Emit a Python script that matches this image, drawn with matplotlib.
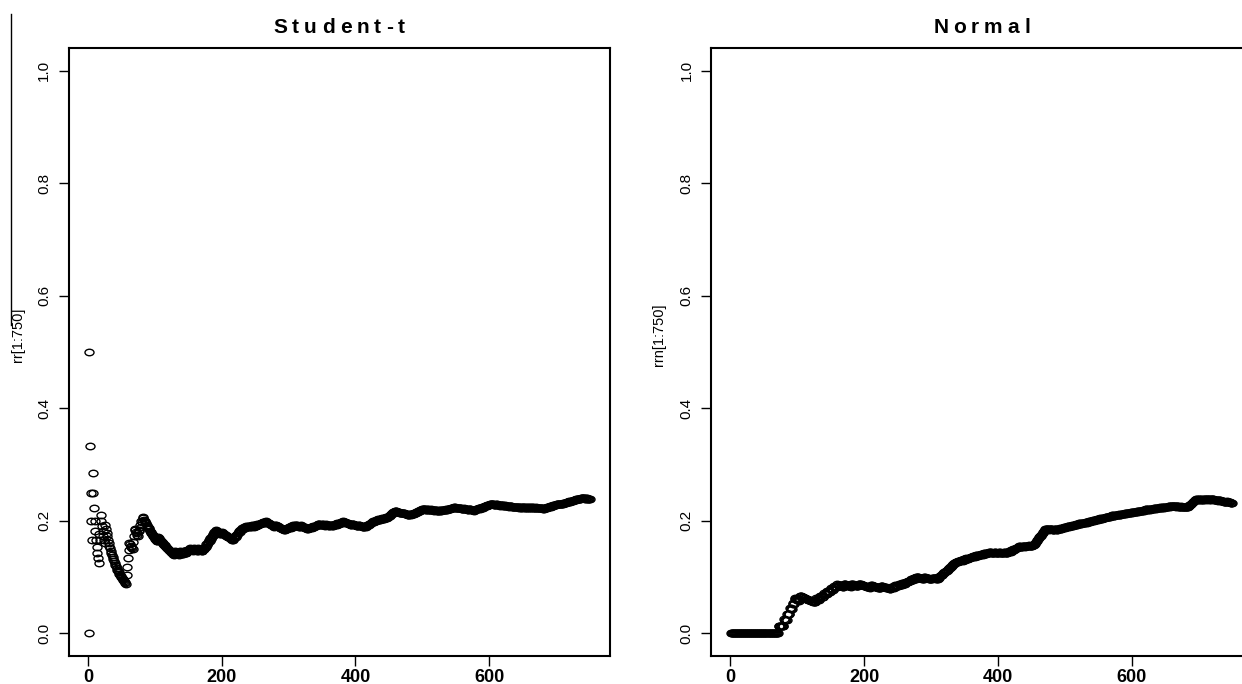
import numpy as np
import matplotlib
matplotlib.use("Agg")
import matplotlib.pyplot as plt
from matplotlib.path import Path
from matplotlib.transforms import Affine2D
from matplotlib.lines import Line2D
from matplotlib.textpath import text_to_path
from matplotlib.font_manager import FontProperties

# ---------------- data ----------------
N_OBS = 750

# trial indices at which an exceedance occurred (Student-t model)
student_hits = [
    2, 7, 17, 19, 26,
    58, 59, 60, 61, 62,
    68, 69, 70,
    76, 78, 80, 82,
    105,
    130, 137, 143, 148, 152, 158, 165, 172,
    175, 177, 179, 181, 183, 185, 187, 189, 191,
    200,
    218, 220, 222, 224, 226, 228, 230, 233, 236,
    240, 245,
    249, 253, 256, 259, 262, 266,
    280,
    295, 298, 301, 304, 307, 310,
    318,
    330, 333, 336, 339, 342, 344,
    350, 356, 362, 367,
    370, 373, 376, 379, 382,
    395, 405,
    414, 417, 419, 421, 423, 425, 427, 429, 431,
    434, 437, 440, 443, 446, 448, 450,
    452, 453, 455, 456, 457, 459,
    470,
    481, 484, 487, 489, 491, 493, 495, 497, 499, 501,
    507, 513, 519, 525,
    529, 532, 535, 538, 541, 543, 546, 548,
    555, 563, 570,
    578, 580, 582, 584, 587, 589, 591, 593, 595, 597, 599, 601, 603,
    610, 617, 624, 631,
    640, 645, 650, 655, 660, 664,
    670, 676,
    683, 685, 687, 689, 691, 693, 695, 697, 699, 701, 703,
    708, 710, 712, 714, 716, 718, 720, 722, 724, 726, 728, 730, 732, 735, 737, 739,
    745,
]

# trial indices at which an exceedance occurred (Normal model)
normal_hits = [
    72, 80, 85, 89, 93, 96,
    104,
    128, 134, 140, 145, 150, 155, 160,
    170, 181, 192, 210, 225,
    240, 246, 252, 257,
    262, 266, 270, 274, 278,
    290, 302,
    311, 313, 315, 318, 320, 322, 325, 327, 329, 331, 333, 335, 337,
    341, 345, 349, 352, 356, 359, 363, 367, 371, 375, 379, 383, 387,
    395, 402, 409,
    415, 417, 420, 422, 425, 427, 430, 432,
    437, 442, 447, 452,
    455, 456, 457, 458, 459, 460, 461, 462, 463, 465, 466, 467, 468, 469, 470, 471, 472,
    478, 485,
    490, 493, 496, 499, 501, 504, 507, 510, 513, 516, 519, 521,
    525, 528, 531, 534, 536, 539, 542, 545, 548, 550, 553, 556, 559, 561, 564, 567, 569, 571,
    575, 578, 581, 584, 587, 590, 593, 596, 599, 602, 605, 608, 611, 614, 617, 619, 621,
    625, 628, 631, 634, 637, 640, 643, 646, 649, 652, 655, 658, 661,
    667, 673, 679,
    684, 685, 686, 687, 688, 689, 690, 691, 692, 693, 694, 695, 696,
    700, 704, 708, 712, 716, 720,
    730, 742,
]

titles = ["Student-t", "Normal"]
ylabels = ["rr[1:750]", "rrn[1:750]"]
xticks = [0, 200, 400, 600]
xtick_labels = ["0", "200", "400", "600"]
yticks = [0.0, 0.2, 0.4, 0.6, 0.8, 1.0]
ytick_labels = ["0.0", "0.2", "0.4", "0.6", "0.8", "1.0"]


def running_rate(hits, n):
    idx = np.arange(1, n + 1)
    flags = np.isin(idx, hits).astype(float)
    return idx, np.cumsum(flags) / idx


# ---------------- figure ----------------
W, H = 1242, 684
fig = plt.figure(figsize=(W / 100, H / 100), dpi=100)
plt.rcParams["font.family"] = ["Liberation Sans", "DejaVu Sans"]

# R-like open circle (slightly flattened as in the picture)
ell = Path.unit_circle().transformed(Affine2D().scale(1.0, 0.72))

panels = [(68.5, 48, 609.6, 656), (711, 48, 1252.1, 656)]
series = [student_hits, normal_hits]

title_fp = FontProperties(family="Liberation Sans", weight="bold", size=15)


def spaced_text(xc, y, s, fp, gap):
    # draw a string with extra tracking, centred at xc (pixels)
    widths = []
    for i in range(1, len(s) + 1):
        w, h, d = text_to_path.get_text_width_height_descent(s[:i], fp, ismath=False)
        widths.append(w * 100 / 72)
    total = widths[-1] + gap * (len(s) - 1)
    x0 = xc - total / 2
    prev = 0.0
    for i, ch in enumerate(s):
        xpos = x0 + prev + gap * i
        fig.text(xpos / W, 1 - y / H, ch, fontproperties=fp, ha="left", va="baseline")
        prev = widths[i]


for k, (x0, y0, x1, y1) in enumerate(panels):
    ax = fig.add_axes([x0 / W, 1 - y1 / H, (x1 - x0) / W, (y1 - y0) / H])
    idx, rate = running_rate(series[k], N_OBS)
    ax.plot(idx, rate, linestyle="none", marker=ell, markersize=6.5,
            markerfacecolor="none", markeredgecolor="black", markeredgewidth=1.0)
    ax.set_xlim(1 - 0.04 * (N_OBS - 1), N_OBS + 0.04 * (N_OBS - 1))
    ax.set_ylim(-0.04, 1.04)
    ax.set_xticks(xticks)
    ax.set_xticklabels(xtick_labels, fontsize=13, fontweight="bold")
    ax.set_yticks(yticks)
    ax.set_yticklabels(ytick_labels, fontsize=11, rotation=90, va="center")
    ax.tick_params(axis="both", direction="out", length=7.5, width=1.0, color="black")
    ax.tick_params(axis="x", pad=2)
    ax.tick_params(axis="y", pad=5)
    for sp in ax.spines.values():
        sp.set_linewidth(1.5)
        sp.set_color("black")
    # title
    xc = (x0 + x1) / 2
    spaced_text(xc, 33, titles[k], title_fp, 5.0)

# y-axis labels
fig.text(18 / W, 1 - 335 / H, ylabels[0], rotation=90, ha="center", va="center", fontsize=10.5)
fig.text(659 / W, 1 - 335 / H, ylabels[1], rotation=90, ha="center", va="center", fontsize=10.5)

# thin vertical rule at far left
fig.add_artist(Line2D([11 / W, 11 / W], [1 - 14 / H, 1 - 325 / H],
                      transform=fig.transFigure, color="black", linewidth=1.0))

fig.savefig("out.png", dpi=100)
